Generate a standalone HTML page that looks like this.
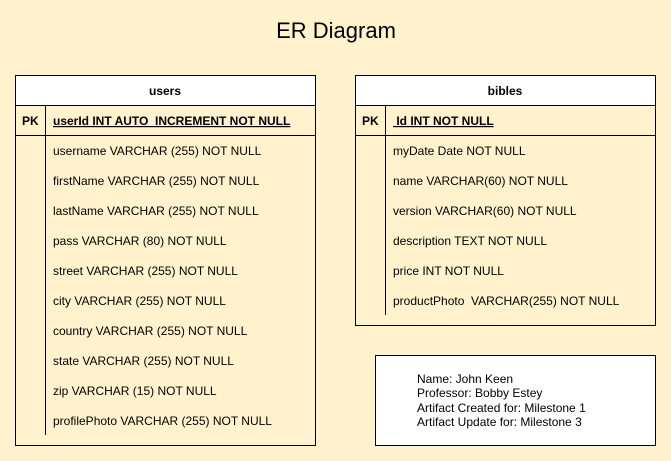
<!DOCTYPE html>
<html><head><meta charset="utf-8"><style>
html,body{margin:0;padding:0;background:#fff2cc;}
svg{display:block;font-family:"Liberation Sans",Arial,sans-serif;}
text{white-space:pre;}
</style></head><body>
<svg width="671" height="461" viewBox="0 0 671 461" xmlns="http://www.w3.org/2000/svg" xml:space="preserve">
<rect width="671" height="461" fill="#fff2cc"/>
<text x="336" y="38" font-size="22" text-anchor="middle" fill="#000">ER Diagram</text>

<rect x="15.5" y="75.5" width="300" height="370" fill="#fff2cc" stroke="#000"/>
<rect x="15.5" y="75.5" width="300" height="30" fill="#fff" stroke="#000"/>
<line x1="15" y1="135.5" x2="316" y2="135.5" stroke="#000"/>
<line x1="45.5" y1="105" x2="45.5" y2="435" stroke="#000"/>
<text x="165" y="95" font-size="12" font-weight="bold" text-anchor="middle">users</text>
<text x="22" y="125" font-size="12" font-weight="bold">PK</text>
<text x="53" y="125" font-size="12" font-weight="bold" text-decoration="underline">userId INT AUTO_INCREMENT NOT NULL</text>
<g font-size="12" fill="#000">
<text x="53" y="155">username VARCHAR (255) NOT NULL</text>
<text x="53" y="185">firstName VARCHAR (255) NOT NULL</text>
<text x="53" y="215">lastName VARCHAR (255) NOT NULL</text>
<text x="53" y="245">pass VARCHAR (80) NOT NULL</text>
<text x="53" y="275">street VARCHAR (255) NOT NULL</text>
<text x="53" y="305">city VARCHAR (255) NOT NULL</text>
<text x="53" y="335">country VARCHAR (255) NOT NULL</text>
<text x="53" y="365">state VARCHAR (255) NOT NULL</text>
<text x="53" y="395">zip VARCHAR (15) NOT NULL</text>
<text x="53" y="425">profilePhoto VARCHAR (255) NOT NULL</text>
</g>

<rect x="355.5" y="75.5" width="300" height="250" fill="#fff2cc" stroke="#000"/>
<rect x="355.5" y="75.5" width="300" height="30" fill="#fff" stroke="#000"/>
<line x1="355" y1="135.5" x2="656" y2="135.5" stroke="#000"/>
<line x1="385.5" y1="105" x2="385.5" y2="315" stroke="#000"/>
<text x="505" y="95" font-size="12" font-weight="bold" text-anchor="middle">bibles</text>
<text x="362" y="125" font-size="12" font-weight="bold">PK</text>
<text x="393" y="125" font-size="12" font-weight="bold" text-decoration="underline"> Id INT NOT NULL</text>
<g font-size="12" fill="#000">
<text x="393" y="155">myDate Date NOT NULL</text>
<text x="393" y="185">name VARCHAR(60) NOT NULL</text>
<text x="393" y="215">version VARCHAR(60) NOT NULL</text>
<text x="393" y="245">description TEXT NOT NULL</text>
<text x="393" y="275">price INT NOT NULL</text>
<text x="393" y="305">productPhoto  VARCHAR(255) NOT NULL</text>
</g>

<rect x="375.5" y="355.5" width="280" height="90" fill="#fff" stroke="#000"/>
<g font-size="12" fill="#000">
<text x="417" y="383">Name: John Keen</text>
<text x="417" y="397">Professor: Bobby Estey</text>
<text x="417" y="412">Artifact Created for: Milestone 1</text>
<text x="417" y="426">Artifact Update for: Milestone 3</text>
</g>
</svg>
</body></html>
